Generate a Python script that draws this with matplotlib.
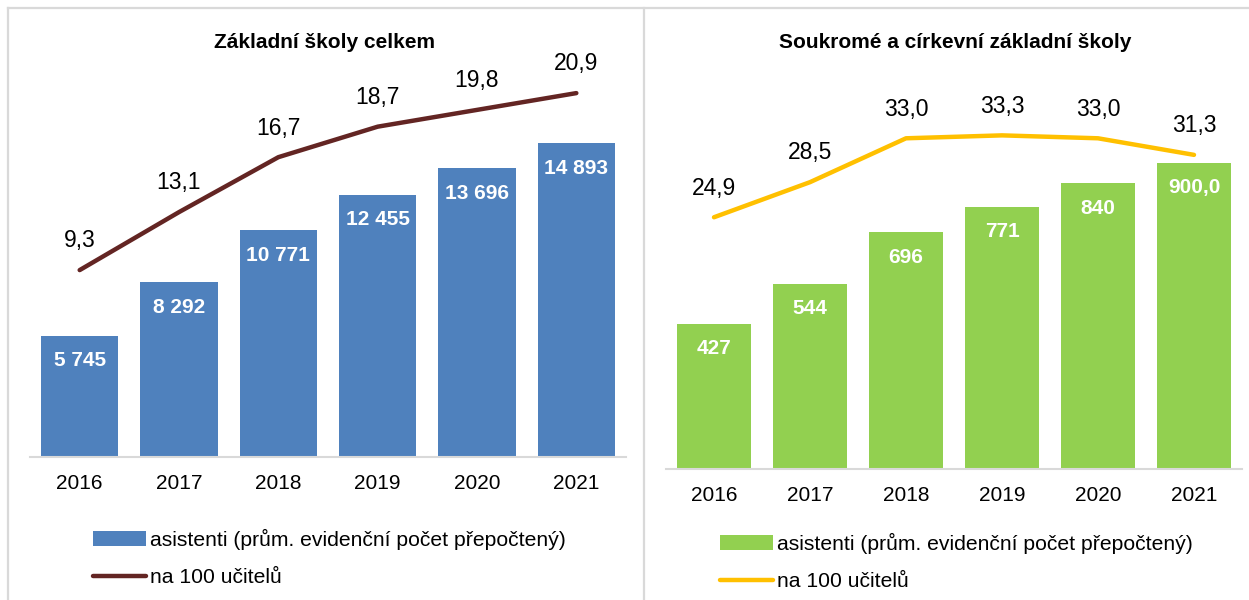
import matplotlib
matplotlib.use('Agg')
import matplotlib.pyplot as plt
from matplotlib.lines import Line2D
import numpy as np

plt.rcParams['font.family'] = ['Liberation Sans', 'DejaVu Sans']

years = ['2016', '2017', '2018', '2019', '2020', '2021']

# Základní školy celkem
zs_asistenti = [5745, 8292, 10771, 12455, 13696, 14893]
zs_na100 = [9.3, 13.1, 16.7, 18.7, 19.8, 20.9]

# Soukromé a církevní
sc_asistenti = [427, 544, 696, 771, 840, 900.0]
sc_na100 = [24.9, 28.5, 33.0, 33.3, 33.0, 31.3]
sc_bar_labels = ['427', '544', '696', '771', '840', '900,0']

W, H = 1249, 600
fig = plt.figure(figsize=(W / 100, H / 100), dpi=100)


def px_axes(x0, x1, ytop, ybot):
    return fig.add_axes([x0 / W, 1 - ybot / H, (x1 - x0) / W, (ybot - ytop) / H])


def fmt_int(v):
    return f'{int(round(v)):,}'.replace(',', ' ')


def fmt_dec(v):
    return f'{v:.1f}'.replace('.', ',')


def panel(box, bar_vals, line_vals, bar_labels, bar_col, line_col,
          ylim1, ylim2, barw, title, title_x, leg_xy):
    ax = px_axes(*box)
    x = np.arange(len(years))
    bars = ax.bar(x, bar_vals, width=barw, color=bar_col, zorder=2,
                  label='asistenti (prům. evidenční počet přepočtený)')
    ax.set_xlim(-0.5, len(years) - 0.5)
    ax.set_ylim(*ylim1)
    ax.set_xticks(x)
    ax.set_xticklabels(years, fontsize=15)
    ax.tick_params(axis='x', length=0, pad=12)
    ax.set_yticks([])
    for s in ['top', 'left', 'right']:
        ax.spines[s].set_visible(False)
    ax.spines['bottom'].set_color('#d9d9d9')
    ax.spines['bottom'].set_linewidth(1.5)
    for b, lab in zip(bars, bar_labels):
        ax.annotate(lab, (b.get_x() + b.get_width() / 2, b.get_height()),
                    xytext=(0, -18), textcoords='offset points',
                    ha='center', va='center', color='white',
                    fontsize=15, fontweight='bold', zorder=4)

    ax2 = ax.twinx()
    ln, = ax2.plot(x, line_vals, color=line_col, lw=3.2,
                   solid_capstyle='round', zorder=3, label='na 100 učitelů')
    ax2.set_ylim(*ylim2)
    ax2.set_yticks([])
    for s in ax2.spines.values():
        s.set_visible(False)
    for xi, v in zip(x, line_vals):
        ax2.annotate(fmt_dec(v), (xi, v), xytext=(0, 21),
                     textcoords='offset points', ha='center', va='center',
                     fontsize=16.5, color='black')

    fig.text(title_x / W, 1 - 42 / H, title, ha='center', va='center',
             fontsize=15, fontweight='bold')
    fig.legend([bars, ln], [bars.get_label(), ln.get_label()],
               loc='upper left', bbox_to_anchor=(leg_xy[0] / W, 1 - leg_xy[1] / H),
               frameon=False, fontsize=15.2, handlelength=2.5,
               handletextpad=0.2, labelspacing=0.85, borderpad=0,
               borderaxespad=0)


panel((30, 626, 60, 457), zs_asistenti, zs_na100,
      [fmt_int(v) for v in zs_asistenti], '#4f81bd', '#632523',
      (0, 18838), (-2.95, 23.07), 0.78, 'Základní školy celkem', 325, (93, 529))

panel((666, 1242, 60, 469), sc_asistenti, sc_na100, sc_bar_labels,
      '#92d050', '#ffc000',
      (0, 1202), (-0.92, 41.03), 0.77, 'Soukromé a církevní základní školy',
      955, (720, 533))

# panel frames
frame = dict(color='#d9d9d9', lw=1.6, transform=fig.transFigure)
fig.add_artist(Line2D([8 / W, 1], [1 - 8 / H, 1 - 8 / H], **frame))
fig.add_artist(Line2D([8 / W, 8 / W], [1 - 8 / H, 0], **frame))
fig.add_artist(Line2D([644 / W, 644 / W], [1 - 8 / H, 0], **frame))

fig.savefig('out.png', dpi=100)
